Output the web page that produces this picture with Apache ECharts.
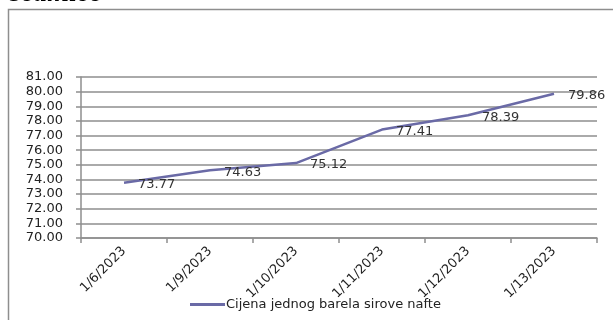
<!DOCTYPE html>
<html>
<head>
<meta charset="utf-8">
<script src="https://cdn.jsdelivr.net/npm/echarts@6/dist/echarts.min.js"></script>
<style>
  html, body { margin: 0; padding: 0; background: #fff; }
  #chart { width: 613px; height: 320px; }
</style>
</head>
<body>
<div id="chart"></div>
<script>
// Weekly crude oil price per barrel
const dates = ['1/6/2023', '1/9/2023', '1/10/2023', '1/11/2023', '1/12/2023', '1/13/2023'];
const prices = [73.77, 74.63, 75.12, 77.41, 78.39, 79.86];
const seriesName = 'Cijena jednog barela sirove nafte';
const headingText = 'sedmice';

const lineColor = '#6a6aa6';
const gridColor = '#8e8e8e';

const chart = echarts.init(document.getElementById('chart'), null, { renderer: 'canvas' });

chart.setOption({
  animation: false,
  backgroundColor: '#fff',
  graphic: [
    {
      type: 'text',
      left: 10,
      top: -20,
      style: {
        text: headingText,
        font: 'italic bold 28px "Liberation Serif", serif',
        fill: '#000'
      }
    },
    {
      type: 'rect',
      shape: { x: 8.5, y: 9.5, width: 700, height: 400 },
      style: { fill: 'none', stroke: gridColor, lineWidth: 1.5 },
      z: -1
    }
  ],
  grid: { left: 81, right: 16, top: 77, bottom: 82, outerBoundsMode: 'none' },
  legend: {
    bottom: 4,
    left: 185,
    itemWidth: 35,
    itemHeight: 3,
    itemGap: 2,
    icon: 'rect',
    textStyle: { fontFamily: 'DejaVu Sans', fontSize: 13, color: '#222', padding: [0, 0, 0, -4] },
    data: [seriesName]
  },
  xAxis: {
    type: 'category',
    data: dates,
    boundaryGap: true,
    axisLine: { lineStyle: { color: gridColor, width: 1.5 } },
    axisTick: { show: true, alignWithLabel: false, length: 5, inside: false, lineStyle: { color: gridColor, width: 1.5 } },
    axisLabel: {
      rotate: 45,
      margin: 11,
      fontFamily: 'DejaVu Sans',
      fontSize: 13,
      color: '#222'
    },
    splitLine: { show: false }
  },
  yAxis: {
    type: 'value',
    min: 70,
    max: 81,
    interval: 1,
    axisLine: { show: true, lineStyle: { color: gridColor, width: 1.5 } },
    axisTick: { show: true, length: 5, lineStyle: { color: gridColor, width: 1.5 } },
    axisLabel: {
      margin: 18,
      align: 'right',
      fontFamily: 'DejaVu Sans',
      fontSize: 13,
      color: '#222',
      formatter: v => v.toFixed(2)
    },
    splitLine: { show: true, lineStyle: { color: gridColor, width: 1.5 } }
  },
  series: [
    {
      name: seriesName,
      type: 'line',
      data: prices,
      symbol: 'circle',
      symbolSize: 0,
      showSymbol: true,
      lineStyle: { color: lineColor, width: 2.5 },
      itemStyle: { color: lineColor },
      label: {
        show: true,
        position: 'right',
        distance: 14,
        offset: [0, 2],
        fontFamily: 'DejaVu Sans',
        fontSize: 13,
        color: '#333',
        formatter: p => p.value.toFixed(2)
      }
    }
  ]
});
</script>
</body>
</html>
